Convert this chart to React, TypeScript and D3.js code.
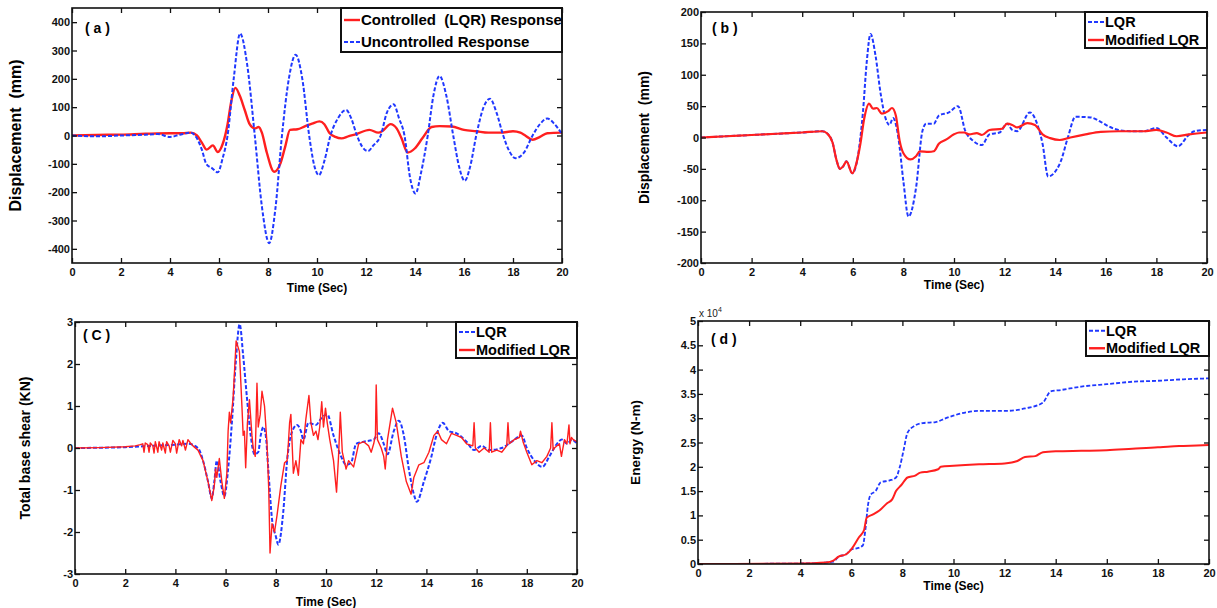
import React, { useEffect, useRef } from 'react';
import * as d3 from 'd3';

const W = 1217;
const H = 608;
const FONT = "'Liberation Sans', Arial, Helvetica, sans-serif";
const RED = '#ff1f1f';
const BLUE = '#2038ff';

const timeTicks = [0, 2, 4, 6, 8, 10, 12, 14, 16, 18, 20];

// (a) displacement: uncontrolled vs controlled (LQR)
const aUncT = [0, 1, 2, 3, 3.5, 4, 4.4, 4.85, 5.1, 5.3, 5.48, 5.71, 5.95, 6.15, 6.35, 6.6, 6.86, 7.15, 7.46, 7.75, 8.05, 8.3, 8.57, 8.85, 9.13, 9.4, 9.68, 9.9, 10.08, 10.3, 10.55, 10.85, 11.19, 11.4, 11.63, 11.85, 12.08, 12.3, 12.6, 12.85, 13.13, 13.35, 13.57, 13.8, 14.02, 14.25, 14.52, 14.75, 15.0, 15.28, 15.56, 15.8, 16.03, 16.25, 16.5, 16.8, 17.06, 17.33, 17.6, 17.85, 18.1, 18.45, 18.8, 19.1, 19.4, 19.7, 20];
const aUncV = [0, -3, 0, 3, 5, -5, 3, 10, -10, -50, -100, -115, -130, -80, 0, 200, 360, 250, 0, -250, -380, -260, 0, 200, 285, 200, 0, -110, -140, -90, 0, 60, 90, 60, 0, -40, -55, -35, 0, 80, 110, 60, 0, -150, -205, -130, 0, 140, 210, 140, 0, -110, -160, -110, 0, 100, 130, 80, 0, -55, -80, -60, 0, 40, 60, 40, 5];
const aLqrT = [0, 1, 2, 3, 4, 4.5, 4.85, 5.1, 5.3, 5.5, 5.75, 5.95, 6.15, 6.35, 6.5, 6.67, 6.85, 7.05, 7.25, 7.46, 7.62, 7.75, 7.95, 8.25, 8.5, 8.7, 8.9, 9.2, 9.5, 9.8, 10.1, 10.3, 10.5, 10.75, 11.0, 11.3, 11.6, 12.14, 12.5, 12.7, 13.0, 13.25, 13.45, 13.7, 14.0, 14.3, 14.68, 15.0, 15.5, 16.0, 16.5, 17.0, 17.5, 18.0, 18.3, 18.5, 18.8, 19.1, 19.4, 20];
const aLqrV = [0, 2, 3, 6, 8, 8, 10, 0, -25, -50, -35, -58, -30, 40, 120, 168, 140, 90, 40, 25, 30, 10, -60, -128, -100, -40, 20, 22, 32, 42, 50, 40, 10, -5, -10, -2, 5, 20, 10, 18, 40, 25, -10, -60, -45, -10, 30, 33, 32, 20, 15, 10, 10, 15, 10, 0, -15, -5, 8, 10];

// (b) displacement: LQR vs modified LQR
const bLqrT = [0, 1, 2, 3, 4, 4.8, 5.0, 5.2, 5.35, 5.49, 5.62, 5.75, 5.98, 6.2, 6.4, 6.55, 6.7, 6.9, 7.1, 7.3, 7.45, 7.59, 7.8, 8.0, 8.2, 8.5, 8.75, 8.9, 9.2, 9.4, 9.8, 10.16, 10.45, 10.75, 11.1, 11.4, 11.8, 12.1, 12.3, 12.5, 13.0, 13.3, 13.5, 13.72, 14.2, 14.5, 14.8, 15.4, 15.8, 16.1, 16.5, 17.0, 17.5, 18.0, 18.4, 18.85, 19.3, 19.5, 20];
const bLqrV = [0, 2, 4, 6, 8, 10, 6, -8, -35, -50, -46, -38, -57, -30, 40, 120, 165, 130, 70, 30, 20, 31, 0, -70, -126, -80, 10, 22, 22, 35, 40, 50, 10, -5, -12, 5, 8, 22, 12, 10, 40, 20, -10, -62, -40, 0, 33, 32, 25, 18, 12, 10, 10, 15, 0, -14, 5, 10, 12];
const bModT = [0, 1, 2, 3, 4, 4.8, 5.0, 5.2, 5.35, 5.49, 5.62, 5.75, 5.98, 6.15, 6.3, 6.45, 6.64, 6.8, 6.95, 7.15, 7.4, 7.55, 7.7, 7.85, 8.0, 8.28, 8.5, 8.65, 9.0, 9.2, 9.4, 9.7, 10.0, 10.2, 10.4, 10.6, 10.9, 11.1, 11.4, 11.9, 12.1, 12.3, 12.5, 12.9, 13.2, 13.5, 13.8, 14.18, 14.6, 15.2, 15.8, 16.5, 17.5, 18.0, 18.4, 18.8, 19.3, 20];
const bModV = [0, 2, 4, 6, 8, 10, 6, -8, -35, -50, -46, -38, -57, -40, -10, 30, 54, 46, 47, 38, 42, 47, 35, -5, -25, -35, -30, -22, -23, -22, -10, -3, 5, 8, 8, 5, 7, 4, 12, 14, 22, 20, 16, 23, 20, 5, -1, -4, 0, 5, 9, 10, 10, 12, 8, 2, 5, 8];

// (c) total base shear
const cLqrT = [0, 2, 3, 4, 4.5, 4.9, 5.1, 5.3, 5.45, 5.55, 5.65, 5.8, 5.95, 6.1, 6.25, 6.4, 6.56, 6.7, 6.85, 7.0, 7.15, 7.3, 7.4, 7.5, 7.6, 7.7, 7.85, 8.0, 8.1, 8.3, 8.45, 8.6, 8.85, 9.0, 9.1, 9.3, 9.6, 9.8, 10.05, 10.3, 10.6, 10.8, 11.0, 11.2, 11.5, 11.9, 12.1, 12.3, 12.45, 12.7, 12.9, 13.1, 13.3, 13.5, 13.62, 13.9, 14.2, 14.4, 14.65, 14.9, 15.2, 15.6, 15.9, 16.2, 16.5, 17.0, 17.4, 17.8, 18.0, 18.3, 18.62, 18.9, 19.2, 19.4, 19.6, 19.8, 20];
const cLqrV = [0, 0.02, 0.05, 0.08, 0.1, 0.0, -0.3, -0.8, -1.2, -0.8, -0.3, -0.8, -1.15, -0.5, 0.6, 2.0, 2.95, 2.2, 1.2, 0.3, -0.15, -0.1, 0.3, 0.5, 0.3, -0.5, -1.7, -2.1, -2.3, -1.5, -0.3, 0.3, 0.55, 0.4, 0.2, 0.6, 0.55, 0.7, 0.8, 0.3, -0.2, -0.4, -0.35, 0.1, 0.15, 0.2, 0.35, 0.1, -0.15, 0.4, 0.65, 0.3, -0.5, -1.1, -1.28, -0.8, -0.2, 0.3, 0.6, 0.4, 0.35, 0.15, -0.05, 0.05, -0.05, 0.0, 0.15, 0.3, 0.0, -0.3, -0.45, -0.2, 0.1, 0.2, 0.1, 0.2, 0.1];
const cModT = [0, 1, 2, 2.4, 2.6, 2.7, 2.75, 2.8, 2.9, 2.95, 3.0, 3.1, 3.15, 3.2, 3.3, 3.35, 3.45, 3.5, 3.6, 3.65, 3.75, 3.8, 3.9, 4.0, 4.05, 4.15, 4.25, 4.3, 4.4, 4.5, 4.6, 4.7, 4.9, 5.1, 5.3, 5.45, 5.55, 5.6, 5.65, 5.75, 5.85, 5.95, 6.05, 6.1, 6.15, 6.2, 6.3, 6.42, 6.55, 6.65, 6.7, 6.75, 6.8, 6.87, 6.95, 7.05, 7.1, 7.18, 7.25, 7.3, 7.38, 7.45, 7.55, 7.65, 7.72, 7.77, 7.85, 7.95, 8.05, 8.2, 8.35, 8.45, 8.5, 8.55, 8.6, 8.7, 8.8, 8.9, 9.0, 9.1, 9.2, 9.32, 9.4, 9.5, 9.6, 9.68, 9.75, 9.83, 9.9, 9.98, 10.05, 10.15, 10.3, 10.42, 10.5, 10.57, 10.65, 10.8, 10.9, 11.1, 11.3, 11.5, 11.7, 11.8, 11.9, 11.97, 12.0, 12.05, 12.2, 12.3, 12.36, 12.45, 12.65, 12.8, 13.0, 13.2, 13.39, 13.5, 13.7, 13.9, 14.1, 14.3, 14.45, 14.6, 14.8, 15.0, 15.2, 15.4, 15.6, 15.85, 15.9, 15.95, 16.1, 16.3, 16.5, 16.55, 16.6, 16.8, 17.0, 17.2, 17.25, 17.3, 17.5, 17.7, 17.75, 17.85, 18.0, 18.2, 18.4, 18.6, 18.8, 18.95, 19.0, 19.05, 19.1, 19.3, 19.38, 19.5, 19.6, 19.68, 19.72, 19.78, 19.85, 20];
const cModV = [0, 0.01, 0.03, 0.05, 0.08, 0.1, -0.1, 0.12, 0.08, -0.1, 0.12, 0.05, -0.12, 0.15, -0.1, 0.15, -0.05, 0.12, -0.12, 0.15, 0.05, -0.1, 0.18, 0.1, -0.12, 0.2, 0.05, 0.18, -0.05, 0.2, 0.12, 0.05, -0.05, -0.3, -0.8, -1.25, -0.9, -0.5, -0.7, -0.25, -0.8, -1.2, -0.6, 0.4, 0.85, 0.6, 1.2, 2.55, 2.3, 1.0, 0.3, 0.4, -0.47, 0.6, 1.15, 0.3, 0.0, -0.2, 1.54, 0.5, 0.8, 1.35, 1.0, 0.1, -1.0, -2.5, -1.8, -2.0, -1.6, -0.9, -0.35, -0.3, 0.1, 0.6, 0.8, -0.6, -0.3, -0.65, 0.2, 0.1, 0.7, 1.25, 0.6, 0.3, 0.4, 0.2, 0.5, 1.1, 0.5, 0.95, 0.6, 0.2, -0.3, -1.05, -0.2, 0.85, -0.1, -0.5, -0.3, -0.45, 0.1, 0.15, 0.05, -0.1, 0.1, 0.3, 1.5, 0.2, 0.0, -0.2, -0.5, 0.2, 0.95, 0.6, -0.2, -0.8, -1.1, -0.7, -0.4, -0.35, -0.1, 0.3, 0.4, 0.2, 0.1, 0.35, 0.3, 0.25, 0.1, 0.05, 0.6, 0.0, -0.1, 0.0, -0.1, 0.6, -0.1, -0.05, -0.1, 0.05, 0.6, 0.1, 0.2, 0.25, 0.4, 0.15, -0.1, -0.4, -0.3, -0.35, -0.2, 0.0, 0.6, -0.05, 0.0, 0.1, -0.2, 0.2, 0.1, 0.55, 0.1, 0.25, 0.2, 0.15];

// (d) energy (x 10^4 N-m)
const dLqrT = [0, 4, 5, 5.3, 5.5, 5.8, 6.0, 6.2, 6.45, 6.55, 6.65, 6.75, 6.95, 7.15, 7.5, 7.75, 7.9, 8.05, 8.2, 8.5, 8.8, 9.3, 9.7, 10.1, 10.5, 11, 12, 12.8, 13.5, 13.8, 14.2, 15, 16, 17, 18, 19, 20];
const dLqrV = [0, 0.01, 0.03, 0.05, 0.15, 0.2, 0.3, 0.32, 0.38, 0.7, 1.2, 1.42, 1.5, 1.68, 1.72, 1.78, 2.0, 2.35, 2.7, 2.85, 2.9, 2.92, 3.0, 3.07, 3.12, 3.15, 3.15, 3.2, 3.32, 3.55, 3.58, 3.65, 3.7, 3.75, 3.77, 3.8, 3.82];
const dModT = [0, 4, 5, 5.3, 5.5, 5.8, 6.0, 6.3, 6.5, 6.6, 6.85, 7.1, 7.4, 7.6, 7.75, 7.95, 8.2, 8.5, 8.7, 9.0, 9.4, 9.5, 10, 11, 12, 12.5, 12.8, 13.2, 13.5, 14, 15, 16, 17, 18, 18.5, 19, 20];
const dModV = [0, 0.01, 0.03, 0.07, 0.15, 0.2, 0.3, 0.55, 0.7, 0.95, 1.02, 1.1, 1.25, 1.33, 1.5, 1.62, 1.78, 1.82, 1.88, 1.9, 1.95, 2.0, 2.02, 2.05, 2.07, 2.12, 2.2, 2.22, 2.3, 2.32, 2.33, 2.34, 2.37, 2.4, 2.42, 2.43, 2.45];

const aTicks = [-400, -300, -200, -100, 0, 100, 200, 300, 400];
const bTicks = [-200, -150, -100, -50, 0, 50, 100, 150, 200];
const cTicks = [-3, -2, -1, 0, 1, 2, 3];
const dTicks = [0, 0.5, 1, 1.5, 2, 2.5, 3, 3.5, 4, 4.5, 5];

const zip = (t: number[], v: number[]) => t.map((d, i) => [d, v[i]] as [number, number]);

const uncontrolled = { name: 'Uncontrolled Response', data: zip(aUncT, aUncV), color: BLUE, dash: '4,2', width: 2 };
const controlled = { name: 'Controlled  (LQR) Response', data: zip(aLqrT, aLqrV), color: RED, dash: null, width: 2.4 };

const panels = [
  {
    id: 'a', x0: 72, x1: 562, y0: 8, y1: 263, yDomain: [-450, 450], yTicks: aTicks,
    yLabel: 'Displacement  (mm)', yLabelSize: 16, yLabelX: 15,
    tag: '( a )', tagX: 85, tagY: 33, timeY: 292,
    series: [{ ...controlled, curve: d3.curveMonotoneX }, { ...uncontrolled, curve: d3.curveMonotoneX }],
    legend: { x0: 341, y0: 8, x1: 562, y1: 52, size: 15, rows: [controlled, uncontrolled] },
  },
  {
    id: 'b', x0: 701, x1: 1207, y0: 12, y1: 263, yDomain: [-200, 200], yTicks: bTicks,
    yLabel: 'Displacement  (mm)', yLabelSize: 14, yLabelX: 644,
    tag: '( b )', tagX: 712, tagY: 33, timeY: 289,
    series: [
      { name: 'LQR', data: zip(bLqrT, bLqrV), color: BLUE, dash: '4,2', width: 2, curve: d3.curveMonotoneX },
      { name: 'Modified LQR', data: zip(bModT, bModV), color: RED, dash: null, width: 2.2, curve: d3.curveMonotoneX },
    ],
    legend: { x0: 1085, y0: 12, x1: 1207, y1: 48, size: 14.5, rows: null },
  },
  {
    id: 'c', x0: 75, x1: 577, y0: 322, y1: 574, yDomain: [-3, 3], yTicks: cTicks,
    yLabel: 'Total base shear (KN)', yLabelSize: 14, yLabelX: 25,
    tag: '( C )', tagX: 83, tagY: 340, timeY: 606,
    series: [
      { name: 'LQR', data: zip(cLqrT, cLqrV), color: BLUE, dash: '4,2', width: 2, curve: d3.curveMonotoneX },
      { name: 'Modified LQR', data: zip(cModT, cModV), color: RED, dash: null, width: 1.4, curve: d3.curveLinear },
    ],
    legend: { x0: 456, y0: 322, x1: 577, y1: 358, size: 14.5, rows: null },
  },
  {
    id: 'd', x0: 698, x1: 1209, y0: 321, y1: 564, yDomain: [0, 5], yTicks: dTicks,
    yLabel: 'Energy (N-m)', yLabelSize: 13.5, yLabelX: 635,
    tag: '( d )', tagX: 711, tagY: 344, timeY: 590,
    series: [
      { name: 'LQR', data: zip(dLqrT, dLqrV), color: BLUE, dash: '4,2', width: 1.8, curve: d3.curveMonotoneX },
      { name: 'Modified LQR', data: zip(dModT, dModV), color: RED, dash: null, width: 2, curve: d3.curveMonotoneX },
    ],
    legend: { x0: 1086, y0: 321, x1: 1209, y1: 356, size: 14.5, rows: null },
  },
];

function drawPanel(svg: any, p: any) {
  const x = d3.scaleLinear().domain([0, 20]).range([p.x0, p.x1]);
  const y = d3.scaleLinear().domain(p.yDomain).range([p.y1, p.y0]);
  const g = svg.append('g');

  g.append('clipPath').attr('id', `clip-${p.id}`)
    .append('rect').attr('x', p.x0).attr('y', p.y0).attr('width', p.x1 - p.x0).attr('height', p.y1 - p.y0);

  // lines
  p.series.forEach((s: any) => {
    const line = d3.line<[number, number]>().x(d => x(d[0])).y(d => y(d[1])).curve(s.curve);
    g.append('path')
      .attr('clip-path', `url(#clip-${p.id})`)
      .attr('d', line(s.data))
      .attr('fill', 'none')
      .attr('stroke', s.color)
      .attr('stroke-width', s.width)
      .attr('stroke-dasharray', s.dash)
      .attr('stroke-linejoin', 'round');
  });

  // axes, MATLAB style: inward ticks on all four sides
  const fmt = (d: any) => String(d);
  const styleAxis = (sel: any) => {
    sel.select('.domain').remove();
    sel.selectAll('line').attr('stroke', '#111').attr('stroke-width', 1.3);
    sel.selectAll('text').attr('font-family', FONT).attr('font-size', 11).attr('font-weight', 'bold').attr('fill', '#111');
  };
  g.append('g').attr('transform', `translate(0,${p.y1})`)
    .call(d3.axisBottom(x).tickValues(timeTicks).tickSize(-5).tickPadding(5).tickFormat(fmt)).call(styleAxis);
  g.append('g').attr('transform', `translate(0,${p.y0})`)
    .call(d3.axisTop(x).tickValues(timeTicks).tickSize(-5).tickFormat(() => '')).call(styleAxis);
  g.append('g').attr('transform', `translate(${p.x0},0)`)
    .call(d3.axisLeft(y).tickValues(p.yTicks).tickSize(-5).tickPadding(2).tickFormat(fmt)).call(styleAxis);
  g.append('g').attr('transform', `translate(${p.x1},0)`)
    .call(d3.axisRight(y).tickValues(p.yTicks).tickSize(-5).tickFormat(() => '')).call(styleAxis);

  g.append('rect')
    .attr('x', p.x0).attr('y', p.y0).attr('width', p.x1 - p.x0).attr('height', p.y1 - p.y0)
    .attr('fill', 'none').attr('stroke', '#111').attr('stroke-width', 1.6);

  // panel tag
  g.append('text').attr('x', p.tagX).attr('y', p.tagY)
    .attr('font-family', FONT).attr('font-size', 14).attr('font-weight', 'bold')
    .style('white-space', 'pre').text(p.tag);

  // axis titles
  g.append('text').attr('x', (p.x0 + p.x1) / 2).attr('y', p.timeY).attr('text-anchor', 'middle')
    .attr('font-family', FONT).attr('font-size', 12).attr('font-weight', 'bold').text('Time (Sec)');
  const yc = (p.y0 + p.y1) / 2;
  g.append('text').attr('transform', `translate(${p.yLabelX},${yc}) rotate(-90)`)
    .attr('text-anchor', 'middle').attr('dy', '0.35em')
    .attr('font-family', FONT).attr('font-size', p.yLabelSize).attr('font-weight', 'bold')
    .style('white-space', 'pre').text(p.yLabel);

  if (p.id === 'd') {
    const t = g.append('text').attr('x', p.x0 + 1).attr('y', p.y0 - 4)
      .attr('font-family', FONT).attr('font-size', 10).attr('fill', '#222');
    t.append('tspan').text('x 10');
    t.append('tspan').attr('dy', -5).attr('font-size', 7).text('4');
  }

  // legend
  const L = p.legend;
  const rows = L.rows || p.series;
  g.append('rect').attr('x', L.x0).attr('y', L.y0).attr('width', L.x1 - L.x0).attr('height', L.y1 - L.y0)
    .attr('fill', 'white').attr('stroke', '#111').attr('stroke-width', 2);
  const rowH = (L.y1 - L.y0) / rows.length;
  rows.forEach((s: any, i: number) => {
    const cy = L.y0 + rowH * (i + 0.5) + 1;
    g.append('line').attr('x1', L.x0 + 3).attr('x2', L.x0 + 19).attr('y1', cy).attr('y2', cy)
      .attr('stroke', s.color).attr('stroke-width', s.dash ? 2 : 2.4).attr('stroke-dasharray', s.dash);
    g.append('text').attr('x', L.x0 + 20).attr('y', cy).attr('dy', '0.36em')
      .attr('font-family', FONT).attr('font-size', L.size).attr('font-weight', 'bold')
      .style('white-space', 'pre').text(s.name);
  });
}

const App = () => {
  const svgRef = useRef<SVGSVGElement>(null);

  useEffect(() => {
    const svg = d3.select(svgRef.current);
    svg.selectAll('*').remove();
    panels.forEach(p => drawPanel(svg, p));
  }, []);

  return (
    <div style={{ position: 'absolute', left: 0, top: 0 }}>
      <svg ref={svgRef} width={W} height={H} style={{ display: 'block', background: 'white' }} />
    </div>
  );
};

export default App;
